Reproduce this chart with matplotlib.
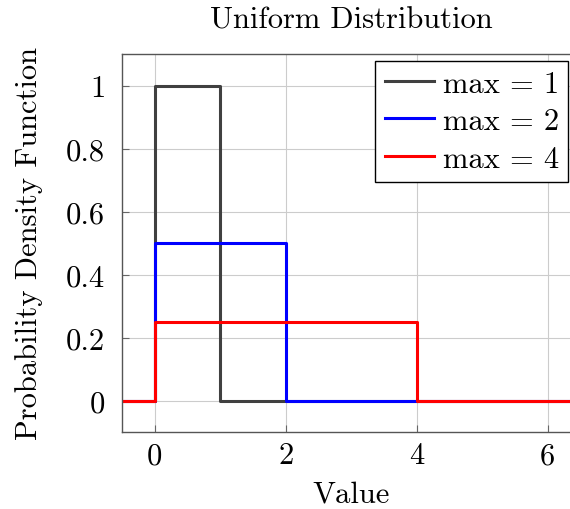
import matplotlib
matplotlib.use("Agg")
import matplotlib.pyplot as plt

plt.rcParams['font.family'] = 'serif'
plt.rcParams['font.serif'] = ['cmr10']
plt.rcParams['mathtext.fontset'] = 'cm'
plt.rcParams['axes.formatter.use_mathtext'] = True

# uniform distributions on [0, max]
maxima = [1, 2, 4]
labels = ['max = 1', 'max = 2', 'max = 4']
colors = ['#404040', 'blue', 'red']
x_start = -0.5
x_end = 6.5

fig = plt.figure(figsize=(5.7, 5.1), dpi=100)
ax = fig.add_axes([122 / 570, 1 - 433 / 510, 458.5 / 570, 378 / 510])

for m, lab, c in zip(maxima, labels, colors):
    xs = [x_start, 0, m, x_end]
    ys = [0, 1 / m, 0, 0]
    ax.step(xs, ys, where='post', color=c, lw=2.2, label=lab)

ax.set_xlim(x_start, x_end)
ax.set_ylim(-0.1, 1.1)
ax.set_xticks([0, 2, 4, 6])
ax.set_yticks([0, 0.2, 0.4, 0.6, 0.8, 1])
ax.set_yticklabels(['0', '0.2', '0.4', '0.6', '0.8', '1'])
ax.set_xticklabels(['0', '2', '4', '6'])
ax.grid(True, color='#cccccc', lw=0.8)
ax.set_axisbelow(True)
ax.tick_params(direction='in', length=5, color='#666666', labelsize=22)
ax.tick_params(axis='y', pad=12)
ax.tick_params(axis='x', pad=7)
for s in ax.spines.values():
    s.set_color('#555555')
    s.set_linewidth(1.0)

ax.set_title('Uniform Distribution', fontsize=22, pad=19)
ax.set_xlabel('Value', fontsize=22, labelpad=8)
ax.set_ylabel('Probability Density Function', fontsize=22, labelpad=17)

leg = ax.legend(loc='upper right', bbox_to_anchor=(568 / 570, 1 - 62 / 510),
                bbox_transform=fig.transFigure, fontsize=22, fancybox=False,
                framealpha=1, edgecolor='black', handlelength=1.6,
                borderpad=0.3, labelspacing=0.33, handletextpad=0.3,
                borderaxespad=0)
leg.get_frame().set_linewidth(1.0)

fig.savefig('out.png', dpi=100)
